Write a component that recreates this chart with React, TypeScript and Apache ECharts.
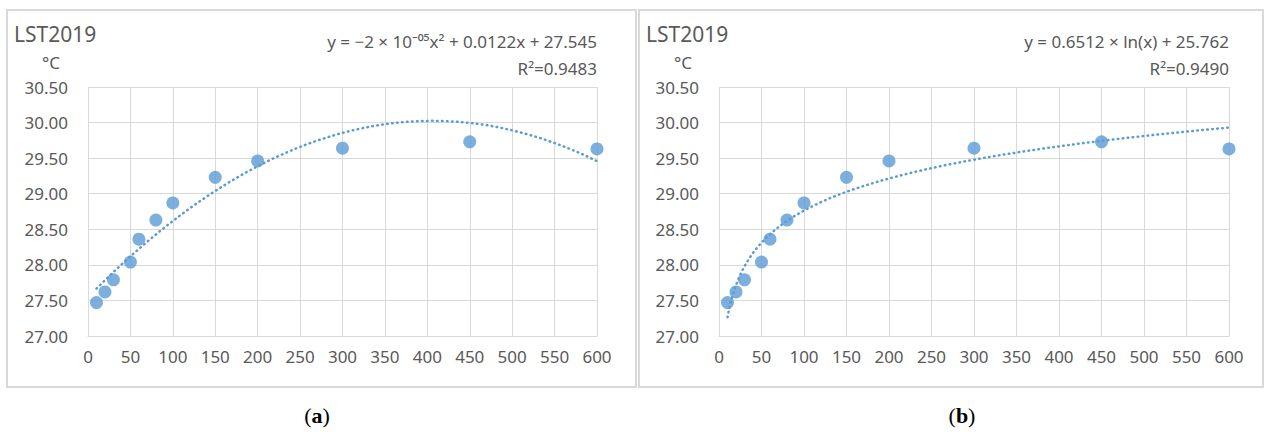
import React, { useEffect, useRef } from "react";
import * as echarts from "echarts";

// Distance values (x) and LST2019 temperatures (°C)
const distances = [10, 20, 30, 50, 60, 80, 100, 150, 200, 300, 450, 600];
const lst2019 = [27.47, 27.62, 27.79, 28.04, 28.36, 28.63, 28.87, 29.23, 29.46, 29.64, 29.73, 29.63];

const titleText = "LST2019";
const unitText = "°C";
const eqQuad = "y = −2 × 10⁻⁰⁵x² + 0.0122x + 27.545";
const r2Quad = "R²=0.9483";
const eqLog = "y = 0.6512 × ln(x) + 25.762";
const r2Log = "R²=0.9490";

const BLUE = "#5b9bd5";
const GRID = "#d9d9d9";
const TXT = "#595959";
const FONT = "'Noto Sans', 'Open Sans', sans-serif";

// Least-squares fits of the data (as a spreadsheet trendline does)
function solve3(A: number[][], b: number[]): number[] {
  const M = A.map((r, i) => [...r, b[i]]);
  for (let i = 0; i < 3; i++) {
    let p = i;
    for (let k = i + 1; k < 3; k++) if (Math.abs(M[k][i]) > Math.abs(M[p][i])) p = k;
    [M[i], M[p]] = [M[p], M[i]];
    for (let k = i + 1; k < 3; k++) {
      const f = M[k][i] / M[i][i];
      for (let j = i; j < 4; j++) M[k][j] -= f * M[i][j];
    }
  }
  const x = [0, 0, 0];
  for (let i = 2; i >= 0; i--) {
    let s = M[i][3];
    for (let j = i + 1; j < 3; j++) s -= M[i][j] * x[j];
    x[i] = s / M[i][i];
  }
  return x;
}

function quadFit(xs: number[], ys: number[]) {
  const S = (f: (x: number, y: number) => number) => xs.reduce((a, x, i) => a + f(x, ys[i]), 0);
  const n = xs.length;
  const A = [
    [n, S((x) => x), S((x) => x * x)],
    [S((x) => x), S((x) => x * x), S((x) => x ** 3)],
    [S((x) => x * x), S((x) => x ** 3), S((x) => x ** 4)],
  ];
  const b = [S((_, y) => y), S((x, y) => x * y), S((x, y) => x * x * y)];
  return solve3(A, b); // c, b, a
}

function logFit(xs: number[], ys: number[]) {
  const lx = xs.map(Math.log);
  const n = xs.length;
  const mx = lx.reduce((a, v) => a + v, 0) / n;
  const my = ys.reduce((a, v) => a + v, 0) / n;
  let sxy = 0, sxx = 0;
  lx.forEach((v, i) => { sxy += (v - mx) * (ys[i] - my); sxx += (v - mx) ** 2; });
  const slope = sxy / sxx;
  return [my - slope * mx, slope];
}

export default function App() {
  const ref = useRef<HTMLDivElement>(null);
  useEffect(() => {
    if (!ref.current) return;
    const chart = echarts.init(ref.current, undefined, { renderer: "svg" });
    const pts = distances.map((x, i) => [x, lst2019[i]]);
    const [qc, qb, qa] = quadFit(distances, lst2019);
    const [lc, ls] = logFit(distances, lst2019);
    const xMin = distances[0];
    const xMax = distances[distances.length - 1];
    const quadLine: number[][] = [];
    const logLine: number[][] = [];
    for (let x = xMin; x <= xMax; x += 2) {
      quadLine.push([x, qc + qb * x + qa * x * x]);
      logLine.push([x, lc + ls * Math.log(x)]);
    }

    const mkX = (gi: number) => ({
      type: "value", gridIndex: gi, min: 0, max: 600, interval: 50,
      axisLine: { show: true, lineStyle: { color: GRID, width: 1 } },
      axisTick: { show: false },
      splitLine: { show: true, lineStyle: { color: GRID, width: 1 } },
      axisLabel: { color: TXT, fontSize: 17, fontFamily: FONT, margin: 12 },
    });
    const mkY = (gi: number) => ({
      type: "value", gridIndex: gi, min: 27, max: 30.5, interval: 0.5,
      axisLine: { show: false },
      axisTick: { show: false },
      splitLine: { show: true, lineStyle: { color: GRID, width: 1 } },
      axisLabel: { color: TXT, fontSize: 17, fontFamily: FONT, margin: 20, formatter: (v: number) => v.toFixed(2) },
    });

    const panel = (dx: number, w: number, eq: string, r2: string, right: number) => [
      { type: "rect", shape: { x: dx, y: 10, width: w, height: 377 }, style: { fill: "none", stroke: GRID, lineWidth: 2 }, silent: true },
      { type: "text", x: dx + 7, y: 34, style: { text: titleText, fill: TXT, fontSize: 21, fontFamily: FONT, verticalAlign: "middle" } },
      { type: "text", x: dx + 35, y: 62, style: { text: unitText, fill: TXT, fontSize: 17, fontFamily: FONT, verticalAlign: "middle" } },
      { type: "text", x: right, y: 41, style: { text: eq, fill: TXT, fontSize: 17, fontFamily: FONT, align: "right", verticalAlign: "middle" } },
      { type: "text", x: right, y: 68, style: { text: r2, fill: TXT, fontSize: 17, fontFamily: FONT, align: "right", verticalAlign: "middle" } },
    ];

    const caption = (cx: number, letter: string) => ({
      type: "text", x: cx, y: 415,
      style: {
        text: `{p|(}{b|${letter}}{p|)}`, align: "center", verticalAlign: "middle",
        rich: {
          p: { fontSize: 22, fontFamily: "'Liberation Serif', serif", fill: "#000" },
          b: { fontSize: 22, fontFamily: "'Liberation Serif', serif", fontWeight: "bold", fill: "#000" },
        },
      },
    });

    const trendStyle = { color: BLUE, width: 2.5, type: [0.6, 4.4], cap: "round" };

    chart.setOption({
      animation: false,
      backgroundColor: "#ffffff",
      grid: [
        { left: 88, top: 87, width: 509, height: 249 },
        { left: 719, top: 87, width: 510, height: 249 },
      ],
      xAxis: [mkX(0), mkX(1)],
      yAxis: [mkY(0), mkY(1)],
      series: [
        { type: "line", xAxisIndex: 0, yAxisIndex: 0, data: quadLine, showSymbol: false, silent: true, lineStyle: trendStyle, z: 1 },
        { type: "scatter", xAxisIndex: 0, yAxisIndex: 0, data: pts, symbolSize: 13, itemStyle: { color: BLUE }, z: 2 },
        { type: "line", xAxisIndex: 1, yAxisIndex: 1, data: logLine, showSymbol: false, silent: true, lineStyle: trendStyle, z: 1 },
        { type: "scatter", xAxisIndex: 1, yAxisIndex: 1, data: pts, symbolSize: 13, itemStyle: { color: BLUE }, z: 2 },
      ],
      graphic: [
        ...panel(7, 629, eqQuad, r2Quad, 597),
        ...panel(639, 624, eqLog, r2Log, 1229),
        caption(317, "a"),
        caption(962, "b"),
      ],
    });
    return () => chart.dispose();
  }, []);
  return <div ref={ref} style={{ position: "absolute", left: 0, top: 0, width: 1264, height: 434 }} />;
}
